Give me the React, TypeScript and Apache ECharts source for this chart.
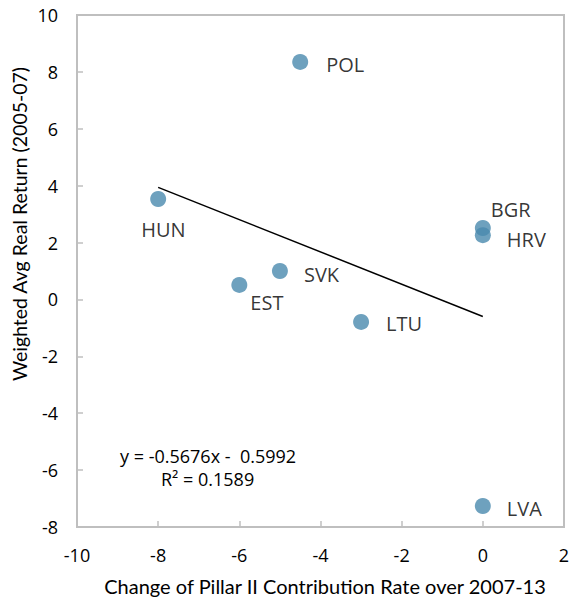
import React, { useEffect, useRef } from "react";
import * as echarts from "echarts";

const countries = ["POL", "HUN", "BGR", "HRV", "SVK", "EST", "LTU", "LVA"];
const contributionChange = [-4.5, -8, 0, 0, -5, -6, -3, 0];
const realReturn = [8.35, 3.53, 2.51, 2.26, 1.0, 0.51, -0.79, -7.26];
const xTicks = [-10, -8, -6, -4, -2, 0, 2];
const yTicks = [-8, -6, -4, -2, 0, 2, 4, 6, 8, 10];
const trendSlope = -0.5676;
const trendIntercept = -0.5992;
const trendRange = [-8, 0];
const equationText = "y = -0.5676x -  0.5992";
const r2Text = "R² = 0.1589";

// label offsets (styling only)
const labelOffsets: number[][] = [
  [26, 3], [-17, 30], [8, -19], [24, 4], [24, 3], [11, 18], [25, 2], [24, 3],
];

const FONT = "'Segoe UI', 'Open Sans', sans-serif";
const TITLE_FONT = "Lato, 'Open Sans', sans-serif";
const FRAME = "#bfbfbf";

export default function App() {
  const ref = useRef<HTMLDivElement>(null);
  useEffect(() => {
    if (!ref.current) return;
    document.body.style.margin = "0";
    const chart = echarts.init(ref.current, undefined, { renderer: "svg" });
    const points = countries.map((c, i) => ({
      value: [contributionChange[i], realReturn[i]],
      name: c,
      label: {
        show: true,
        formatter: c,
        position: "inside",
        align: "left",
        verticalAlign: "middle",
        offset: labelOffsets[i],
        color: "#000",
        fontSize: 20,
        fontFamily: FONT,
      },
    }));
    const trend = trendRange.map((x) => [x, trendSlope * x + trendIntercept]);
    chart.setOption({
      animation: false,
      grid: {
        left: 77,
        right: 7,
        top: 15,
        bottom: 78,
        containLabel: false,
        outerBoundsMode: "none",
        show: true,
        borderColor: FRAME,
        borderWidth: 2,
      },
      xAxis: {
        type: "value",
        min: xTicks[0],
        max: xTicks[xTicks.length - 1],
        interval: 2,
        axisLine: { show: true, onZero: false, lineStyle: { color: FRAME, width: 2 } },
        axisTick: { show: true, inside: true, length: 6, lineStyle: { color: FRAME, width: 1.5 } },
        splitLine: { show: false },
        axisLabel: { color: "#000", fontSize: 18, fontFamily: FONT, margin: 19 },
      },
      yAxis: {
        type: "value",
        min: yTicks[0],
        max: yTicks[yTicks.length - 1],
        interval: 2,
        axisLine: { show: true, onZero: false, lineStyle: { color: FRAME, width: 2 } },
        axisTick: { show: true, inside: true, length: 6, lineStyle: { color: FRAME, width: 1.5 } },
        splitLine: { show: false },
        axisLabel: { color: "#000", fontSize: 18, fontFamily: FONT, margin: 19 },
      },
      graphic: [
        {
          type: "text",
          x: 19,
          y: 224,
          rotation: Math.PI / 2,
          style: {
            text: "Weighted Avg Real Return (2005-07)",
            fontSize: 19.5,
            fontFamily: TITLE_FONT,
            fill: "#000",
            align: "center",
            verticalAlign: "middle",
          },
        },
        {
          type: "text",
          x: 325,
          y: 586,
          style: {
            text: "Change of Pillar II Contribution Rate over 2007-13",
            fontSize: 20,
            fontFamily: TITLE_FONT,
            fill: "#000",
            align: "center",
            verticalAlign: "middle",
          },
        },
        {
          type: "text",
          x: 120,
          y: 456,
          style: { text: equationText, fontSize: 18, fontFamily: FONT, fill: "#000", align: "left", verticalAlign: "middle" },
        },
        {
          type: "text",
          x: 161,
          y: 479,
          style: { text: r2Text, fontSize: 18, fontFamily: FONT, fill: "#000", align: "left", verticalAlign: "middle" },
        },
      ],
      series: [
        {
          type: "line",
          data: trend,
          symbol: "none",
          lineStyle: { color: "#000", width: 1.5 },
          silent: true,
          z: 1,
        },
        {
          type: "scatter",
          data: points,
          symbolSize: 16,
          itemStyle: { color: "#4a8aae" },
          z: 2,
        },
      ],
    });
    return () => chart.dispose();
  }, []);
  return <div ref={ref} style={{ width: 571, height: 605 }} />;
}
